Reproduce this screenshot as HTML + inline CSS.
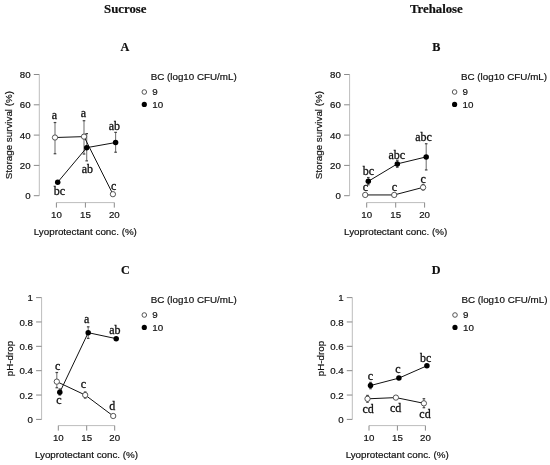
<!DOCTYPE html>
<html><head><meta charset="utf-8"><style>
html,body{margin:0;padding:0;background:#fff;width:550px;height:465px;overflow:hidden}
svg{display:block;will-change:transform;filter:blur(0.3px)}
</style></head><body>
<svg width="550" height="465" viewBox="0 0 550 465">

<line x1="39.30" y1="195.70" x2="39.30" y2="74.50" stroke="#bdbdbd" stroke-width="1"/>
<line x1="33.80" y1="195.70" x2="39.30" y2="195.70" stroke="#8a8a8a" stroke-width="1"/>
<text x="30.60" y="199.30" text-anchor="end" style='font-family:"Liberation Sans",sans-serif;font-size:9.7px;font-weight:normal' fill="#111" stroke="#111" stroke-width="0.2" >0</text>
<line x1="33.80" y1="165.40" x2="39.30" y2="165.40" stroke="#8a8a8a" stroke-width="1"/>
<text x="30.60" y="169.00" text-anchor="end" style='font-family:"Liberation Sans",sans-serif;font-size:9.7px;font-weight:normal' fill="#111" stroke="#111" stroke-width="0.2" >20</text>
<line x1="33.80" y1="135.10" x2="39.30" y2="135.10" stroke="#8a8a8a" stroke-width="1"/>
<text x="30.60" y="138.70" text-anchor="end" style='font-family:"Liberation Sans",sans-serif;font-size:9.7px;font-weight:normal' fill="#111" stroke="#111" stroke-width="0.2" >40</text>
<line x1="33.80" y1="104.80" x2="39.30" y2="104.80" stroke="#8a8a8a" stroke-width="1"/>
<text x="30.60" y="108.40" text-anchor="end" style='font-family:"Liberation Sans",sans-serif;font-size:9.7px;font-weight:normal' fill="#111" stroke="#111" stroke-width="0.2" >60</text>
<line x1="33.80" y1="74.50" x2="39.30" y2="74.50" stroke="#8a8a8a" stroke-width="1"/>
<text x="30.60" y="78.10" text-anchor="end" style='font-family:"Liberation Sans",sans-serif;font-size:9.7px;font-weight:normal' fill="#111" stroke="#111" stroke-width="0.2" >80</text>
<line x1="56.40" y1="202.60" x2="114.30" y2="202.60" stroke="#bdbdbd" stroke-width="1"/>
<line x1="56.40" y1="202.60" x2="56.40" y2="207.60" stroke="#8a8a8a" stroke-width="1"/>
<text x="56.40" y="217.80" text-anchor="middle" style='font-family:"Liberation Sans",sans-serif;font-size:9.7px;font-weight:normal' fill="#111" stroke="#111" stroke-width="0.2" >10</text>
<line x1="85.40" y1="202.60" x2="85.40" y2="207.60" stroke="#8a8a8a" stroke-width="1"/>
<text x="85.40" y="217.80" text-anchor="middle" style='font-family:"Liberation Sans",sans-serif;font-size:9.7px;font-weight:normal' fill="#111" stroke="#111" stroke-width="0.2" >15</text>
<line x1="114.30" y1="202.60" x2="114.30" y2="207.60" stroke="#8a8a8a" stroke-width="1"/>
<text x="114.30" y="217.80" text-anchor="middle" style='font-family:"Liberation Sans",sans-serif;font-size:9.7px;font-weight:normal' fill="#111" stroke="#111" stroke-width="0.2" >20</text>
<text x="85.35" y="235.20" text-anchor="middle" style='font-family:"Liberation Sans",sans-serif;font-size:9.8px;font-weight:normal' fill="#111" stroke="#111" stroke-width="0.2" >Lyoprotectant conc. (%)</text>
<text x="11.60" y="135.10" text-anchor="middle" style='font-family:"Liberation Sans",sans-serif;font-size:9.8px;font-weight:normal' fill="#111" stroke="#111" stroke-width="0.2" transform="rotate(-90 11.60 135.10)">Storage survival (%)</text>
<text x="125.30" y="13.30" text-anchor="middle" style='font-family:"Liberation Serif",serif;font-size:12.8px;font-weight:bold' fill="#111" stroke="#111" stroke-width="0.2" >Sucrose</text>
<text x="124.90" y="50.60" text-anchor="middle" style='font-family:"Liberation Serif",serif;font-size:12.2px;font-weight:bold' fill="#111" stroke="#111" stroke-width="0.2" >A</text>
<text x="150.70" y="79.60" text-anchor="start" style='font-family:"Liberation Sans",sans-serif;font-size:9.8px;font-weight:normal' fill="#111" stroke="#111" stroke-width="0.2" >BC (log10 CFU/mL)</text>
<circle cx="144.30" cy="92.00" r="2.3000000000000003" fill="#fff" stroke="#444" stroke-width="0.9"/>
<text x="152.30" y="95.10" text-anchor="start" style='font-family:"Liberation Sans",sans-serif;font-size:9.8px;font-weight:normal' fill="#111" stroke="#111" stroke-width="0.2" >9</text>
<circle cx="144.30" cy="104.40" r="2.6" fill="#000"/>
<text x="152.30" y="107.60" text-anchor="start" style='font-family:"Liberation Sans",sans-serif;font-size:9.8px;font-weight:normal' fill="#111" stroke="#111" stroke-width="0.2" >10</text>
<line x1="55.00" y1="153.73" x2="55.00" y2="122.53" stroke="#777777" stroke-width="1.1"/>
<line x1="53.70" y1="153.73" x2="56.30" y2="153.73" stroke="#444" stroke-width="1.2"/>
<line x1="53.70" y1="122.53" x2="56.30" y2="122.53" stroke="#444" stroke-width="1.2"/>
<line x1="84.00" y1="154.04" x2="84.00" y2="120.71" stroke="#777777" stroke-width="1.1"/>
<line x1="82.70" y1="154.04" x2="85.30" y2="154.04" stroke="#444" stroke-width="1.2"/>
<line x1="82.70" y1="120.71" x2="85.30" y2="120.71" stroke="#444" stroke-width="1.2"/>
<line x1="86.70" y1="160.85" x2="86.70" y2="133.58" stroke="#777777" stroke-width="1.1"/>
<line x1="85.40" y1="160.85" x2="88.00" y2="160.85" stroke="#444" stroke-width="1.2"/>
<line x1="85.40" y1="133.58" x2="88.00" y2="133.58" stroke="#444" stroke-width="1.2"/>
<line x1="115.60" y1="152.22" x2="115.60" y2="132.37" stroke="#777777" stroke-width="1.1"/>
<line x1="114.30" y1="152.22" x2="116.90" y2="152.22" stroke="#444" stroke-width="1.2"/>
<line x1="114.30" y1="132.37" x2="116.90" y2="132.37" stroke="#444" stroke-width="1.2"/>
<path d="M55.00,137.52 L84.00,136.62 L112.90,194.19" fill="none" stroke="#111" stroke-width="1.0"/>
<path d="M57.70,182.22 L86.70,147.67 L115.60,142.52" fill="none" stroke="#111" stroke-width="1.0"/>
<circle cx="55.00" cy="137.52" r="2.65" fill="#fff" stroke="#444" stroke-width="0.9"/>
<circle cx="84.00" cy="136.62" r="2.65" fill="#fff" stroke="#444" stroke-width="0.9"/>
<circle cx="112.90" cy="194.19" r="2.65" fill="#fff" stroke="#444" stroke-width="0.9"/>
<circle cx="57.70" cy="182.22" r="2.75" fill="#000"/>
<circle cx="86.70" cy="147.67" r="2.75" fill="#000"/>
<circle cx="115.60" cy="142.52" r="2.75" fill="#000"/>
<text x="54.50" y="119.40" text-anchor="middle" style='font-family:"Liberation Serif",serif;font-size:12px;font-weight:normal' fill="#111" stroke="#111" stroke-width="0.3" >a</text>
<text x="83.50" y="117.40" text-anchor="middle" style='font-family:"Liberation Serif",serif;font-size:12px;font-weight:normal' fill="#111" stroke="#111" stroke-width="0.3" >a</text>
<text x="114.30" y="129.90" text-anchor="middle" style='font-family:"Liberation Serif",serif;font-size:12px;font-weight:normal' fill="#111" stroke="#111" stroke-width="0.3" >ab</text>
<text x="87.40" y="172.50" text-anchor="middle" style='font-family:"Liberation Serif",serif;font-size:12px;font-weight:normal' fill="#111" stroke="#111" stroke-width="0.3" >ab</text>
<text x="59.40" y="194.70" text-anchor="middle" style='font-family:"Liberation Serif",serif;font-size:12px;font-weight:normal' fill="#111" stroke="#111" stroke-width="0.3" >bc</text>
<text x="113.70" y="190.20" text-anchor="middle" style='font-family:"Liberation Serif",serif;font-size:12px;font-weight:normal' fill="#111" stroke="#111" stroke-width="0.3" >c</text>
<line x1="349.60" y1="195.70" x2="349.60" y2="74.50" stroke="#bdbdbd" stroke-width="1"/>
<line x1="344.10" y1="195.70" x2="349.60" y2="195.70" stroke="#8a8a8a" stroke-width="1"/>
<text x="340.90" y="199.30" text-anchor="end" style='font-family:"Liberation Sans",sans-serif;font-size:9.7px;font-weight:normal' fill="#111" stroke="#111" stroke-width="0.2" >0</text>
<line x1="344.10" y1="165.40" x2="349.60" y2="165.40" stroke="#8a8a8a" stroke-width="1"/>
<text x="340.90" y="169.00" text-anchor="end" style='font-family:"Liberation Sans",sans-serif;font-size:9.7px;font-weight:normal' fill="#111" stroke="#111" stroke-width="0.2" >20</text>
<line x1="344.10" y1="135.10" x2="349.60" y2="135.10" stroke="#8a8a8a" stroke-width="1"/>
<text x="340.90" y="138.70" text-anchor="end" style='font-family:"Liberation Sans",sans-serif;font-size:9.7px;font-weight:normal' fill="#111" stroke="#111" stroke-width="0.2" >40</text>
<line x1="344.10" y1="104.80" x2="349.60" y2="104.80" stroke="#8a8a8a" stroke-width="1"/>
<text x="340.90" y="108.40" text-anchor="end" style='font-family:"Liberation Sans",sans-serif;font-size:9.7px;font-weight:normal' fill="#111" stroke="#111" stroke-width="0.2" >60</text>
<line x1="344.10" y1="74.50" x2="349.60" y2="74.50" stroke="#8a8a8a" stroke-width="1"/>
<text x="340.90" y="78.10" text-anchor="end" style='font-family:"Liberation Sans",sans-serif;font-size:9.7px;font-weight:normal' fill="#111" stroke="#111" stroke-width="0.2" >80</text>
<line x1="366.70" y1="202.60" x2="424.60" y2="202.60" stroke="#bdbdbd" stroke-width="1"/>
<line x1="366.70" y1="202.60" x2="366.70" y2="207.60" stroke="#8a8a8a" stroke-width="1"/>
<text x="366.70" y="217.80" text-anchor="middle" style='font-family:"Liberation Sans",sans-serif;font-size:9.7px;font-weight:normal' fill="#111" stroke="#111" stroke-width="0.2" >10</text>
<line x1="395.70" y1="202.60" x2="395.70" y2="207.60" stroke="#8a8a8a" stroke-width="1"/>
<text x="395.70" y="217.80" text-anchor="middle" style='font-family:"Liberation Sans",sans-serif;font-size:9.7px;font-weight:normal' fill="#111" stroke="#111" stroke-width="0.2" >15</text>
<line x1="424.60" y1="202.60" x2="424.60" y2="207.60" stroke="#8a8a8a" stroke-width="1"/>
<text x="424.60" y="217.80" text-anchor="middle" style='font-family:"Liberation Sans",sans-serif;font-size:9.7px;font-weight:normal' fill="#111" stroke="#111" stroke-width="0.2" >20</text>
<text x="395.65" y="235.20" text-anchor="middle" style='font-family:"Liberation Sans",sans-serif;font-size:9.8px;font-weight:normal' fill="#111" stroke="#111" stroke-width="0.2" >Lyoprotectant conc. (%)</text>
<text x="321.90" y="135.10" text-anchor="middle" style='font-family:"Liberation Sans",sans-serif;font-size:9.8px;font-weight:normal' fill="#111" stroke="#111" stroke-width="0.2" transform="rotate(-90 321.90 135.10)">Storage survival (%)</text>
<text x="436.35" y="13.30" text-anchor="middle" style='font-family:"Liberation Serif",serif;font-size:12.8px;font-weight:bold' fill="#111" stroke="#111" stroke-width="0.2" >Trehalose</text>
<text x="436.20" y="50.60" text-anchor="middle" style='font-family:"Liberation Serif",serif;font-size:12.2px;font-weight:bold' fill="#111" stroke="#111" stroke-width="0.2" >B</text>
<text x="461.00" y="79.60" text-anchor="start" style='font-family:"Liberation Sans",sans-serif;font-size:9.8px;font-weight:normal' fill="#111" stroke="#111" stroke-width="0.2" >BC (log10 CFU/mL)</text>
<circle cx="454.60" cy="92.00" r="2.3000000000000003" fill="#fff" stroke="#444" stroke-width="0.9"/>
<text x="462.60" y="95.10" text-anchor="start" style='font-family:"Liberation Sans",sans-serif;font-size:9.8px;font-weight:normal' fill="#111" stroke="#111" stroke-width="0.2" >9</text>
<circle cx="454.60" cy="104.40" r="2.6" fill="#000"/>
<text x="462.60" y="107.60" text-anchor="start" style='font-family:"Liberation Sans",sans-serif;font-size:9.8px;font-weight:normal' fill="#111" stroke="#111" stroke-width="0.2" >10</text>
<line x1="423.10" y1="189.94" x2="423.10" y2="184.49" stroke="#777777" stroke-width="1.1"/>
<line x1="421.80" y1="189.94" x2="424.40" y2="189.94" stroke="#444" stroke-width="1.2"/>
<line x1="421.80" y1="184.49" x2="424.40" y2="184.49" stroke="#444" stroke-width="1.2"/>
<line x1="368.30" y1="184.79" x2="368.30" y2="177.52" stroke="#777777" stroke-width="1.1"/>
<line x1="367.00" y1="184.79" x2="369.60" y2="184.79" stroke="#444" stroke-width="1.2"/>
<line x1="367.00" y1="177.52" x2="369.60" y2="177.52" stroke="#444" stroke-width="1.2"/>
<line x1="397.30" y1="167.22" x2="397.30" y2="160.25" stroke="#777777" stroke-width="1.1"/>
<line x1="396.00" y1="167.22" x2="398.60" y2="167.22" stroke="#444" stroke-width="1.2"/>
<line x1="396.00" y1="160.25" x2="398.60" y2="160.25" stroke="#444" stroke-width="1.2"/>
<line x1="426.20" y1="169.94" x2="426.20" y2="143.74" stroke="#777777" stroke-width="1.1"/>
<line x1="424.90" y1="169.94" x2="427.50" y2="169.94" stroke="#444" stroke-width="1.2"/>
<line x1="424.90" y1="143.74" x2="427.50" y2="143.74" stroke="#444" stroke-width="1.2"/>
<path d="M365.20,194.94 L394.20,194.94 L423.10,187.37" fill="none" stroke="#111" stroke-width="1.0"/>
<path d="M368.30,181.31 L397.30,163.88 L426.20,156.92" fill="none" stroke="#111" stroke-width="1.0"/>
<circle cx="365.20" cy="194.94" r="2.65" fill="#fff" stroke="#444" stroke-width="0.9"/>
<circle cx="394.20" cy="194.94" r="2.65" fill="#fff" stroke="#444" stroke-width="0.9"/>
<circle cx="423.10" cy="187.37" r="2.65" fill="#fff" stroke="#444" stroke-width="0.9"/>
<circle cx="368.30" cy="181.31" r="2.75" fill="#000"/>
<circle cx="397.30" cy="163.88" r="2.75" fill="#000"/>
<circle cx="426.20" cy="156.92" r="2.75" fill="#000"/>
<text x="368.40" y="175.20" text-anchor="middle" style='font-family:"Liberation Serif",serif;font-size:12px;font-weight:normal' fill="#111" stroke="#111" stroke-width="0.3" >bc</text>
<text x="396.80" y="159.00" text-anchor="middle" style='font-family:"Liberation Serif",serif;font-size:12px;font-weight:normal' fill="#111" stroke="#111" stroke-width="0.3" >abc</text>
<text x="423.50" y="141.10" text-anchor="middle" style='font-family:"Liberation Serif",serif;font-size:12px;font-weight:normal' fill="#111" stroke="#111" stroke-width="0.3" >abc</text>
<text x="365.50" y="191.00" text-anchor="middle" style='font-family:"Liberation Serif",serif;font-size:12px;font-weight:normal' fill="#111" stroke="#111" stroke-width="0.3" >c</text>
<text x="394.50" y="191.00" text-anchor="middle" style='font-family:"Liberation Serif",serif;font-size:12px;font-weight:normal' fill="#111" stroke="#111" stroke-width="0.3" >c</text>
<text x="423.20" y="182.50" text-anchor="middle" style='font-family:"Liberation Serif",serif;font-size:12px;font-weight:normal' fill="#111" stroke="#111" stroke-width="0.3" >c</text>
<line x1="41.60" y1="419.40" x2="41.60" y2="297.60" stroke="#bdbdbd" stroke-width="1"/>
<line x1="36.10" y1="419.40" x2="41.60" y2="419.40" stroke="#8a8a8a" stroke-width="1"/>
<text x="32.90" y="423.00" text-anchor="end" style='font-family:"Liberation Sans",sans-serif;font-size:9.7px;font-weight:normal' fill="#111" stroke="#111" stroke-width="0.2" >0</text>
<line x1="36.10" y1="395.04" x2="41.60" y2="395.04" stroke="#8a8a8a" stroke-width="1"/>
<text x="32.90" y="398.64" text-anchor="end" style='font-family:"Liberation Sans",sans-serif;font-size:9.7px;font-weight:normal' fill="#111" stroke="#111" stroke-width="0.2" >0.2</text>
<line x1="36.10" y1="370.68" x2="41.60" y2="370.68" stroke="#8a8a8a" stroke-width="1"/>
<text x="32.90" y="374.28" text-anchor="end" style='font-family:"Liberation Sans",sans-serif;font-size:9.7px;font-weight:normal' fill="#111" stroke="#111" stroke-width="0.2" >0.4</text>
<line x1="36.10" y1="346.32" x2="41.60" y2="346.32" stroke="#8a8a8a" stroke-width="1"/>
<text x="32.90" y="349.92" text-anchor="end" style='font-family:"Liberation Sans",sans-serif;font-size:9.7px;font-weight:normal' fill="#111" stroke="#111" stroke-width="0.2" >0.6</text>
<line x1="36.10" y1="321.96" x2="41.60" y2="321.96" stroke="#8a8a8a" stroke-width="1"/>
<text x="32.90" y="325.56" text-anchor="end" style='font-family:"Liberation Sans",sans-serif;font-size:9.7px;font-weight:normal' fill="#111" stroke="#111" stroke-width="0.2" >0.8</text>
<line x1="36.10" y1="297.60" x2="41.60" y2="297.60" stroke="#8a8a8a" stroke-width="1"/>
<text x="32.90" y="301.20" text-anchor="end" style='font-family:"Liberation Sans",sans-serif;font-size:9.7px;font-weight:normal' fill="#111" stroke="#111" stroke-width="0.2" >1</text>
<line x1="58.30" y1="425.60" x2="114.70" y2="425.60" stroke="#bdbdbd" stroke-width="1"/>
<line x1="58.30" y1="425.60" x2="58.30" y2="430.60" stroke="#8a8a8a" stroke-width="1"/>
<text x="58.30" y="440.80" text-anchor="middle" style='font-family:"Liberation Sans",sans-serif;font-size:9.7px;font-weight:normal' fill="#111" stroke="#111" stroke-width="0.2" >10</text>
<line x1="86.70" y1="425.60" x2="86.70" y2="430.60" stroke="#8a8a8a" stroke-width="1"/>
<text x="86.70" y="440.80" text-anchor="middle" style='font-family:"Liberation Sans",sans-serif;font-size:9.7px;font-weight:normal' fill="#111" stroke="#111" stroke-width="0.2" >15</text>
<line x1="114.70" y1="425.60" x2="114.70" y2="430.60" stroke="#8a8a8a" stroke-width="1"/>
<text x="114.70" y="440.80" text-anchor="middle" style='font-family:"Liberation Sans",sans-serif;font-size:9.7px;font-weight:normal' fill="#111" stroke="#111" stroke-width="0.2" >20</text>
<text x="86.50" y="458.20" text-anchor="middle" style='font-family:"Liberation Sans",sans-serif;font-size:9.8px;font-weight:normal' fill="#111" stroke="#111" stroke-width="0.2" >Lyoprotectant conc. (%)</text>
<text x="13.40" y="358.50" text-anchor="middle" style='font-family:"Liberation Sans",sans-serif;font-size:9.8px;font-weight:normal' fill="#111" stroke="#111" stroke-width="0.2" transform="rotate(-90 13.40 358.50)">pH-drop</text>
<text x="125.50" y="273.60" text-anchor="middle" style='font-family:"Liberation Serif",serif;font-size:12.2px;font-weight:bold' fill="#111" stroke="#111" stroke-width="0.2" >C</text>
<text x="150.70" y="302.60" text-anchor="start" style='font-family:"Liberation Sans",sans-serif;font-size:9.8px;font-weight:normal' fill="#111" stroke="#111" stroke-width="0.2" >BC (log10 CFU/mL)</text>
<circle cx="144.30" cy="315.00" r="2.3000000000000003" fill="#fff" stroke="#444" stroke-width="0.9"/>
<text x="152.30" y="318.10" text-anchor="start" style='font-family:"Liberation Sans",sans-serif;font-size:9.8px;font-weight:normal' fill="#111" stroke="#111" stroke-width="0.2" >9</text>
<circle cx="144.30" cy="327.40" r="2.6" fill="#000"/>
<text x="152.30" y="330.60" text-anchor="start" style='font-family:"Liberation Sans",sans-serif;font-size:9.8px;font-weight:normal' fill="#111" stroke="#111" stroke-width="0.2" >10</text>
<line x1="56.80" y1="387.73" x2="56.80" y2="372.51" stroke="#777777" stroke-width="1.1"/>
<line x1="55.50" y1="387.73" x2="58.10" y2="387.73" stroke="#444" stroke-width="1.2"/>
<line x1="55.50" y1="372.51" x2="58.10" y2="372.51" stroke="#444" stroke-width="1.2"/>
<line x1="85.20" y1="398.08" x2="85.20" y2="392.00" stroke="#777777" stroke-width="1.1"/>
<line x1="83.90" y1="398.08" x2="86.50" y2="398.08" stroke="#444" stroke-width="1.2"/>
<line x1="83.90" y1="392.00" x2="86.50" y2="392.00" stroke="#444" stroke-width="1.2"/>
<line x1="59.80" y1="395.04" x2="59.80" y2="388.95" stroke="#777777" stroke-width="1.1"/>
<line x1="58.50" y1="395.04" x2="61.10" y2="395.04" stroke="#444" stroke-width="1.2"/>
<line x1="58.50" y1="388.95" x2="61.10" y2="388.95" stroke="#444" stroke-width="1.2"/>
<line x1="88.20" y1="338.40" x2="88.20" y2="326.83" stroke="#777777" stroke-width="1.1"/>
<line x1="86.90" y1="338.40" x2="89.50" y2="338.40" stroke="#444" stroke-width="1.2"/>
<line x1="86.90" y1="326.83" x2="89.50" y2="326.83" stroke="#444" stroke-width="1.2"/>
<path d="M56.80,381.64 L85.20,395.04 L113.20,415.99" fill="none" stroke="#111" stroke-width="1.0"/>
<path d="M59.80,392.36 L88.20,332.68 L116.20,338.65" fill="none" stroke="#111" stroke-width="1.0"/>
<circle cx="56.80" cy="381.64" r="2.65" fill="#fff" stroke="#444" stroke-width="0.9"/>
<circle cx="85.20" cy="395.04" r="2.65" fill="#fff" stroke="#444" stroke-width="0.9"/>
<circle cx="113.20" cy="415.99" r="2.65" fill="#fff" stroke="#444" stroke-width="0.9"/>
<circle cx="59.80" cy="392.36" r="2.75" fill="#000"/>
<circle cx="88.20" cy="332.68" r="2.75" fill="#000"/>
<circle cx="116.20" cy="338.65" r="2.75" fill="#000"/>
<text x="57.60" y="369.80" text-anchor="middle" style='font-family:"Liberation Serif",serif;font-size:12px;font-weight:normal' fill="#111" stroke="#111" stroke-width="0.3" >c</text>
<text x="58.80" y="404.00" text-anchor="middle" style='font-family:"Liberation Serif",serif;font-size:12px;font-weight:normal' fill="#111" stroke="#111" stroke-width="0.3" >c</text>
<text x="83.50" y="387.80" text-anchor="middle" style='font-family:"Liberation Serif",serif;font-size:12px;font-weight:normal' fill="#111" stroke="#111" stroke-width="0.3" >c</text>
<text x="112.20" y="410.00" text-anchor="middle" style='font-family:"Liberation Serif",serif;font-size:12px;font-weight:normal' fill="#111" stroke="#111" stroke-width="0.3" >d</text>
<text x="86.60" y="323.20" text-anchor="middle" style='font-family:"Liberation Serif",serif;font-size:12px;font-weight:normal' fill="#111" stroke="#111" stroke-width="0.3" >a</text>
<text x="114.80" y="334.00" text-anchor="middle" style='font-family:"Liberation Serif",serif;font-size:12px;font-weight:normal' fill="#111" stroke="#111" stroke-width="0.3" >ab</text>
<line x1="352.30" y1="419.40" x2="352.30" y2="297.60" stroke="#bdbdbd" stroke-width="1"/>
<line x1="346.80" y1="419.40" x2="352.30" y2="419.40" stroke="#8a8a8a" stroke-width="1"/>
<text x="343.60" y="423.00" text-anchor="end" style='font-family:"Liberation Sans",sans-serif;font-size:9.7px;font-weight:normal' fill="#111" stroke="#111" stroke-width="0.2" >0</text>
<line x1="346.80" y1="395.04" x2="352.30" y2="395.04" stroke="#8a8a8a" stroke-width="1"/>
<text x="343.60" y="398.64" text-anchor="end" style='font-family:"Liberation Sans",sans-serif;font-size:9.7px;font-weight:normal' fill="#111" stroke="#111" stroke-width="0.2" >0.2</text>
<line x1="346.80" y1="370.68" x2="352.30" y2="370.68" stroke="#8a8a8a" stroke-width="1"/>
<text x="343.60" y="374.28" text-anchor="end" style='font-family:"Liberation Sans",sans-serif;font-size:9.7px;font-weight:normal' fill="#111" stroke="#111" stroke-width="0.2" >0.4</text>
<line x1="346.80" y1="346.32" x2="352.30" y2="346.32" stroke="#8a8a8a" stroke-width="1"/>
<text x="343.60" y="349.92" text-anchor="end" style='font-family:"Liberation Sans",sans-serif;font-size:9.7px;font-weight:normal' fill="#111" stroke="#111" stroke-width="0.2" >0.6</text>
<line x1="346.80" y1="321.96" x2="352.30" y2="321.96" stroke="#8a8a8a" stroke-width="1"/>
<text x="343.60" y="325.56" text-anchor="end" style='font-family:"Liberation Sans",sans-serif;font-size:9.7px;font-weight:normal' fill="#111" stroke="#111" stroke-width="0.2" >0.8</text>
<line x1="346.80" y1="297.60" x2="352.30" y2="297.60" stroke="#8a8a8a" stroke-width="1"/>
<text x="343.60" y="301.20" text-anchor="end" style='font-family:"Liberation Sans",sans-serif;font-size:9.7px;font-weight:normal' fill="#111" stroke="#111" stroke-width="0.2" >1</text>
<line x1="369.00" y1="425.60" x2="425.40" y2="425.60" stroke="#bdbdbd" stroke-width="1"/>
<line x1="369.00" y1="425.60" x2="369.00" y2="430.60" stroke="#8a8a8a" stroke-width="1"/>
<text x="369.00" y="440.80" text-anchor="middle" style='font-family:"Liberation Sans",sans-serif;font-size:9.7px;font-weight:normal' fill="#111" stroke="#111" stroke-width="0.2" >10</text>
<line x1="397.40" y1="425.60" x2="397.40" y2="430.60" stroke="#8a8a8a" stroke-width="1"/>
<text x="397.40" y="440.80" text-anchor="middle" style='font-family:"Liberation Sans",sans-serif;font-size:9.7px;font-weight:normal' fill="#111" stroke="#111" stroke-width="0.2" >15</text>
<line x1="425.40" y1="425.60" x2="425.40" y2="430.60" stroke="#8a8a8a" stroke-width="1"/>
<text x="425.40" y="440.80" text-anchor="middle" style='font-family:"Liberation Sans",sans-serif;font-size:9.7px;font-weight:normal' fill="#111" stroke="#111" stroke-width="0.2" >20</text>
<text x="397.20" y="458.20" text-anchor="middle" style='font-family:"Liberation Sans",sans-serif;font-size:9.8px;font-weight:normal' fill="#111" stroke="#111" stroke-width="0.2" >Lyoprotectant conc. (%)</text>
<text x="324.10" y="358.50" text-anchor="middle" style='font-family:"Liberation Sans",sans-serif;font-size:9.8px;font-weight:normal' fill="#111" stroke="#111" stroke-width="0.2" transform="rotate(-90 324.10 358.50)">pH-drop</text>
<text x="436.10" y="273.60" text-anchor="middle" style='font-family:"Liberation Serif",serif;font-size:12.2px;font-weight:bold' fill="#111" stroke="#111" stroke-width="0.2" >D</text>
<text x="461.40" y="302.60" text-anchor="start" style='font-family:"Liberation Sans",sans-serif;font-size:9.8px;font-weight:normal' fill="#111" stroke="#111" stroke-width="0.2" >BC (log10 CFU/mL)</text>
<circle cx="455.00" cy="315.00" r="2.3000000000000003" fill="#fff" stroke="#444" stroke-width="0.9"/>
<text x="463.00" y="318.10" text-anchor="start" style='font-family:"Liberation Sans",sans-serif;font-size:9.8px;font-weight:normal' fill="#111" stroke="#111" stroke-width="0.2" >9</text>
<circle cx="455.00" cy="327.40" r="2.6" fill="#000"/>
<text x="463.00" y="330.60" text-anchor="start" style='font-family:"Liberation Sans",sans-serif;font-size:9.8px;font-weight:normal' fill="#111" stroke="#111" stroke-width="0.2" >10</text>
<line x1="367.50" y1="402.23" x2="367.50" y2="395.41" stroke="#777777" stroke-width="1.1"/>
<line x1="366.20" y1="402.23" x2="368.80" y2="402.23" stroke="#444" stroke-width="1.2"/>
<line x1="366.20" y1="395.41" x2="368.80" y2="395.41" stroke="#444" stroke-width="1.2"/>
<line x1="423.90" y1="407.71" x2="423.90" y2="398.69" stroke="#777777" stroke-width="1.1"/>
<line x1="422.60" y1="407.71" x2="425.20" y2="407.71" stroke="#444" stroke-width="1.2"/>
<line x1="422.60" y1="398.69" x2="425.20" y2="398.69" stroke="#444" stroke-width="1.2"/>
<line x1="370.50" y1="388.71" x2="370.50" y2="382.37" stroke="#777777" stroke-width="1.1"/>
<line x1="369.20" y1="388.71" x2="371.80" y2="388.71" stroke="#444" stroke-width="1.2"/>
<line x1="369.20" y1="382.37" x2="371.80" y2="382.37" stroke="#444" stroke-width="1.2"/>
<path d="M367.50,398.82 L395.90,397.60 L423.90,403.32" fill="none" stroke="#111" stroke-width="1.0"/>
<path d="M370.50,385.54 L398.90,378.11 L426.90,365.81" fill="none" stroke="#111" stroke-width="1.0"/>
<circle cx="367.50" cy="398.82" r="2.65" fill="#fff" stroke="#444" stroke-width="0.9"/>
<circle cx="395.90" cy="397.60" r="2.65" fill="#fff" stroke="#444" stroke-width="0.9"/>
<circle cx="423.90" cy="403.32" r="2.65" fill="#fff" stroke="#444" stroke-width="0.9"/>
<circle cx="370.50" cy="385.54" r="2.75" fill="#000"/>
<circle cx="398.90" cy="378.11" r="2.75" fill="#000"/>
<circle cx="426.90" cy="365.81" r="2.75" fill="#000"/>
<text x="370.50" y="379.60" text-anchor="middle" style='font-family:"Liberation Serif",serif;font-size:12px;font-weight:normal' fill="#111" stroke="#111" stroke-width="0.3" >c</text>
<text x="398.00" y="373.20" text-anchor="middle" style='font-family:"Liberation Serif",serif;font-size:12px;font-weight:normal' fill="#111" stroke="#111" stroke-width="0.3" >c</text>
<text x="425.60" y="361.50" text-anchor="middle" style='font-family:"Liberation Serif",serif;font-size:12px;font-weight:normal' fill="#111" stroke="#111" stroke-width="0.3" >bc</text>
<text x="368.20" y="413.20" text-anchor="middle" style='font-family:"Liberation Serif",serif;font-size:12px;font-weight:normal' fill="#111" stroke="#111" stroke-width="0.3" >cd</text>
<text x="395.60" y="411.60" text-anchor="middle" style='font-family:"Liberation Serif",serif;font-size:12px;font-weight:normal' fill="#111" stroke="#111" stroke-width="0.3" >cd</text>
<text x="425.00" y="418.30" text-anchor="middle" style='font-family:"Liberation Serif",serif;font-size:12px;font-weight:normal' fill="#111" stroke="#111" stroke-width="0.3" >cd</text>
</svg>
</body></html>
